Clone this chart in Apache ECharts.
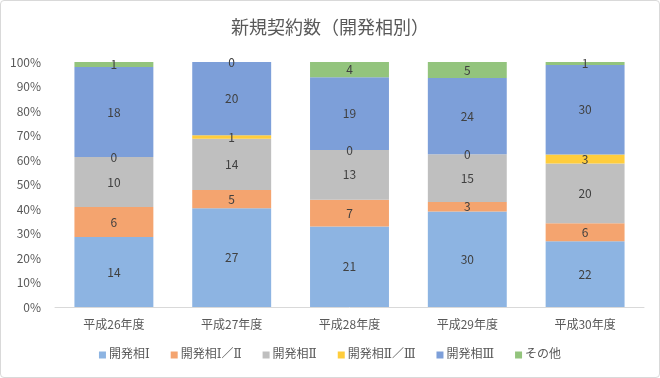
<!DOCTYPE html>
<html><head><meta charset="utf-8">
<script src="https://cdn.jsdelivr.net/npm/echarts@6/dist/echarts.min.js"></script>
<style>
html,body{margin:0;padding:0;background:#fff;}
#c{position:absolute;left:0;top:0;width:658px;height:376px;border:1px solid #d9d9d9;border-radius:4px;}
</style></head>
<body><div id="c"></div>
<script>
const categories = ['平成26年度','平成27年度','平成28年度','平成29年度','平成30年度'];
const seriesNames = ['開発相Ⅰ','開発相Ⅰ／Ⅱ','開発相Ⅱ','開発相Ⅱ／Ⅲ','開発相Ⅲ','その他'];
const phase1 = [14, 27, 21, 30, 22];
const phase12 = [6, 5, 7, 3, 6];
const phase2 = [10, 14, 13, 15, 20];
const phase23 = [0, 1, 0, 0, 3];
const phase3 = [18, 20, 19, 24, 30];
const others = [1, 0, 4, 5, 1];
const yTicks = [0,10,20,30,40,50,60,70,80,90,100];
const colors = ['#8DB4E2','#F4A46F','#BFBFBF','#FFCD3C','#7D9FD9','#93C47D'];

const all = [phase1, phase12, phase2, phase23, phase3, others];
const totals = categories.map((_, i) => all.reduce((s, a) => s + a[i], 0));
const font = '"Noto Sans CJK JP", "Noto Sans", sans-serif';
const legendFont = '"DejaVu Serif", "Noto Sans CJK JP", sans-serif';

const chart = echarts.init(document.getElementById('c'));
chart.setOption({
  animation: false,
  textStyle: {fontFamily: font},
  title: {text: '新規契約数（開発相別）', left: 'center', top: 12,
    textStyle: {fontSize: 18, fontWeight: 'normal', color: '#595959', fontFamily: font}},
  legend: {bottom: 11, left: 'center', itemWidth: 7, itemHeight: 7, itemGap: 21, icon: 'rect',
    textStyle: {fontSize: 12, color: '#595959', fontFamily: legendFont, padding: [0, 0, 0, -2]}},
  grid: {left: 54, right: 15, top: 61, bottom: 70},
  xAxis: {type: 'category', data: categories,
    axisLine: {lineStyle: {color: '#d9d9d9'}}, axisTick: {show: false},
    axisLabel: {color: '#595959', fontSize: 12, margin: 11}},
  yAxis: {type: 'value', min: 0, max: 100, interval: 10,
    axisLabel: {color: '#595959', fontSize: 12, margin: 14, formatter: v => yTicks.includes(v) ? v + '%' : ''},
    splitLine: {show: false}, axisLine: {show: false}, axisTick: {show: false}},
  series: all.map((arr, k) => ({
    name: seriesNames[k], type: 'bar', stack: 'total', barWidth: '67%',
    itemStyle: {color: colors[k]},
    data: arr.map((v, i) => ({value: v / totals[i] * 100, raw: v})),
    label: {show: true, position: 'inside', color: '#404040', fontSize: 12,
      formatter: p => String(arr[p.dataIndex])}
  }))
});
</script></body></html>
